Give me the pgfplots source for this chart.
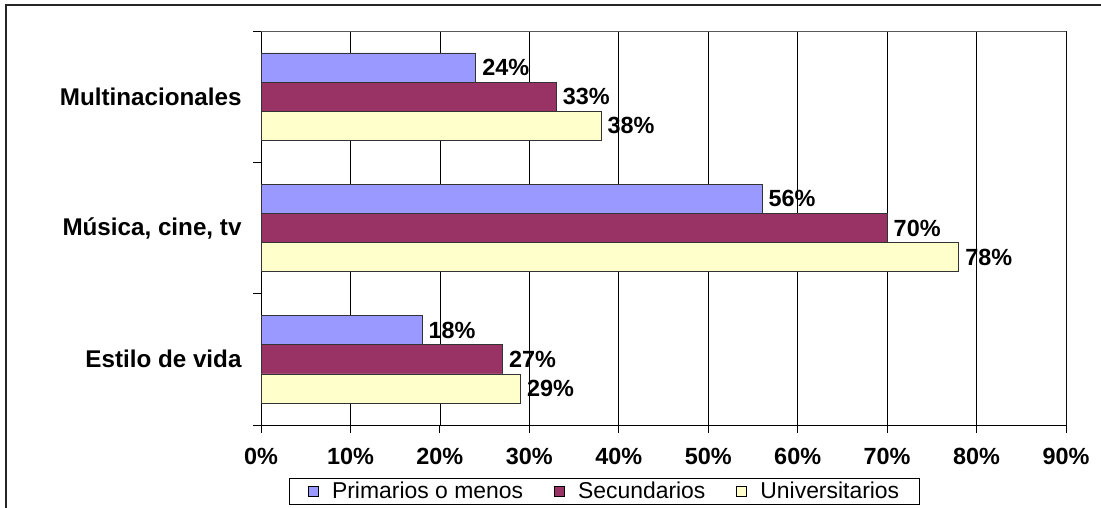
\documentclass[border=0pt]{standalone}
\usepackage{pgfplots}
\pgfplotsset{compat=1.18}
\usepackage{fontspec}
\setmainfont{Liberation Sans}
\definecolor{cblue}{HTML}{9999FF}
\definecolor{cpurple}{HTML}{993366}
\definecolor{cyellow}{HTML}{FFFFCC}
\pgfplotsset{
  sqa/.style={legend image code/.code={\path[draw=none,fill=none] (0bp,0bp) -- (22bp,0bp);\draw[##1,draw=black,line width=0.6bp] (0bp,-5bp) rectangle (10bp,5bp);}},
  sqb/.style={legend image code/.code={\path[draw=none,fill=none] (-29bp,0bp) -- (22bp,0bp);\draw[##1,draw=black,line width=0.6bp] (0bp,-5bp) rectangle (10bp,5bp);}}}
\begin{document}
\begin{tikzpicture}
\useasboundingbox (0,0) rectangle (1101bp,-508bp);
\draw[line width=1.5bp, black!85] (6bp,-520bp) -- (6bp,-5bp) -- (1110bp,-5bp);
\begin{axis}[
  at={(261bp,-425bp)}, anchor=south west,
  scale only axis, width=805bp, height=394bp,
  xbar, bar width=0.222,
  xmin=0, xmax=90, ymin=-0.5, ymax=2.5,
  xtick={0,10,...,90},
  xticklabel={\pgfmathprintnumber{\tick}\%},
  /pgf/number format/assume math mode=true,
  ytick={-0.5,0.5,1.5,2.5},
  y tick label as interval,
  yticklabels={Estilo de vida, {Música, cine, tv}, Multinacionales},
  ticklabel style={font=\bfseries\fontsize{23.5}{27}\selectfont, black},
  yticklabel style={font=\bfseries\fontsize{24.3}{28}\selectfont, xshift=-8bp},
  xticklabel style={yshift=-12bp},
  axis x line*=bottom, axis y line*=left,
  axis line style={-, black, line width=0.9bp},
  tick align=outside, major tick length=8bp,
  tick style={black, line width=0.9bp},
  xmajorgrids, ymajorgrids=false,
  grid style={black, line width=0.7bp},
  point meta=x,
  nodes near coords={\pgfmathprintnumber{\pgfplotspointmeta}\%},
  nodes near coords style={font=\bfseries\fontsize{23.5}{27}\selectfont, black, anchor=west, xshift=3bp},
  legend style={at={(0.4267,-0.1345)}, anchor=north, legend columns=3,
    draw=black, line width=0.8bp, font=\fontsize{23}{27}\selectfont, inner xsep=18bp},
]
\addplot+[sqa, fill=cblue, draw=black!80, line width=0.6bp, bar shift=0.222] coordinates {(24,2) (56,1) (18,0)};
\addplot+[sqb, fill=cpurple, draw=black!80, line width=0.6bp, bar shift=0] coordinates {(33,2) (70,1) (27,0)};
\addplot+[sqb, fill=cyellow, draw=black!80, line width=0.6bp, bar shift=-0.222] coordinates {(38,2) (78,1) (29,0)};
\legend{Primarios o menos, Secundarios, Universitarios}
\draw[gray!70!black, line width=0.9bp] (rel axis cs:0,1) -- (rel axis cs:1,1) -- (rel axis cs:1,0);
\end{axis}
\end{tikzpicture}
\end{document}
